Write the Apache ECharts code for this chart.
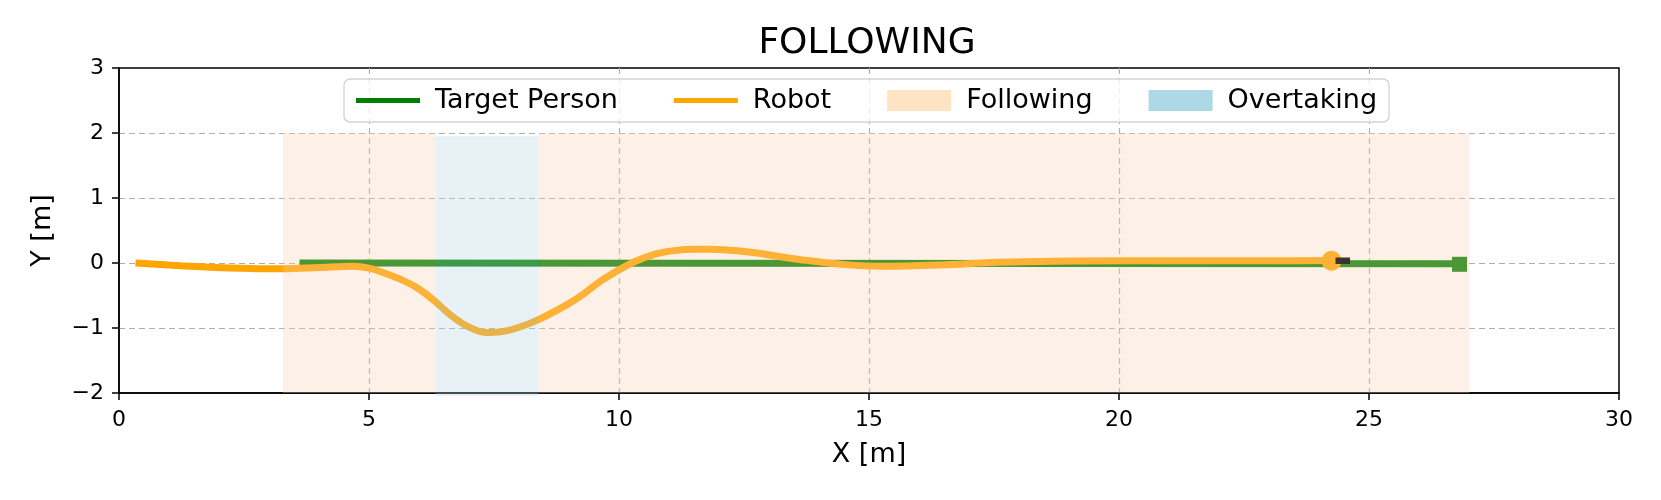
<!DOCTYPE html>
<html>
<head>
<meta charset="utf-8">
<script src="https://cdn.jsdelivr.net/npm/echarts@6/dist/echarts.min.js"></script>
<style>html,body{margin:0;padding:0;background:#fff;}#c{width:1661px;height:500px;}</style>
</head>
<body>
<div id="c"></div>
<script>
// ---- data ----
const robotX = [0.33, 1.0, 1.63, 2.63, 3.28, 4.0, 4.69, 5.0, 5.29, 5.6, 5.96, 6.29, 6.63, 6.96, 7.33, 7.63, 7.96, 8.39, 8.96, 9.3, 9.63, 9.92, 10.31, 10.69, 11.1, 11.5, 11.84, 12.6, 13.2, 13.75, 14.52, 15.28, 16.43, 17.58, 19.11, 21.0, 23.0, 24.25];
const robotY = [0.0, -0.03, -0.056, -0.085, -0.09, -0.07, -0.05, -0.08, -0.15, -0.24, -0.38, -0.57, -0.8, -0.97, -1.07, -1.06, -1.0, -0.87, -0.64, -0.47, -0.28, -0.14, 0.02, 0.13, 0.19, 0.21, 0.21, 0.17, 0.1, 0.04, -0.025, -0.05, -0.03, 0.01, 0.03, 0.035, 0.035, 0.04];
const targetX = [3.61, 26.81];
const targetY = [0.0, -0.01];
const robotEnd = [24.25, 0.035];
const targetEnd = [26.81, -0.02];
const headingX = [24.33, 24.62];
const headingY = [0.035, 0.035];
const followingSpans = [[3.28, 6.33, -2, 2], [8.39, 27.01, -2, 2]];
const overtakingSpans = [[6.33, 8.39, -2.05, 1.95]];
const xRange = [0, 30, 5];
const yRange = [-2, 3, 1];

const FONT = 'DejaVu Sans';
const zip = (a, b) => a.map((v, i) => [v, b[i]]);
const fmt = v => String(v).replace('-', '\u2212');

function spanRender(color) {
  return function (params, api) {
    const p0 = api.coord([api.value(0), api.value(3)]);
    const p1 = api.coord([api.value(1), api.value(2)]);
    return {
      type: 'rect',
      shape: { x: p0[0], y: p0[1], width: p1[0] - p0[0], height: p1[1] - p0[1] },
      style: { fill: color }
    };
  };
}

const chart = echarts.init(document.getElementById('c'));
chart.setOption({
  animation: false,
  backgroundColor: '#fff',
  textStyle: { fontFamily: FONT },
  title: {
    text: 'FOLLOWING', left: 862, textAlign: 'center', top: 21,
    textStyle: { fontFamily: FONT, fontSize: 36, fontWeight: 'normal', color: '#000' }
  },
  legend: {
    left: 344, top: 79,
    padding: [8, 12, 8, 12],
    itemGap: 56,
    itemWidth: 64, itemHeight: 21,
    backgroundColor: 'rgba(255,255,255,0.8)',
    borderColor: '#d3d3d3', borderWidth: 1.3, borderRadius: 6,
    textStyle: { fontFamily: FONT, fontSize: 27, color: '#000', padding: [0, 0, 0, 10] },
    data: [
      { name: 'Target Person', icon: 'path://M0,0h64v5h-64z', itemStyle: { color: '#008000' } },
      { name: 'Robot', icon: 'path://M0,0h64v5h-64z', itemStyle: { color: '#ffa500' } },
      { name: 'Following', icon: 'path://M0,0h64v21h-64z', itemStyle: { color: '#ffe4c4' } },
      { name: 'Overtaking', icon: 'path://M0,0h64v21h-64z', itemStyle: { color: '#add8e6' } }
    ]
  },
  grid: {
    left: 119, right: 42, top: 68, bottom: 107,
    show: true, borderColor: '#000', borderWidth: 1.5, backgroundColor: 'transparent'
  },
  xAxis: {
    type: 'value', min: xRange[0], max: xRange[1], interval: xRange[2],
    name: 'X [m]', nameLocation: 'middle', nameGap: 48,
    nameTextStyle: { fontFamily: FONT, fontSize: 27, color: '#000' },
    axisLine: { show: true, onZero: false, lineStyle: { color: '#000', width: 1.5 } },
    axisTick: { show: true, length: 7, lineStyle: { color: '#000', width: 1.5 } },
    axisLabel: { fontFamily: FONT, fontSize: 22, color: '#000', margin: 16, formatter: fmt },
    splitLine: { show: true, showMinLine: false, showMaxLine: false, lineStyle: { color: '#b0b0b0', type: [6, 4], width: 1.2 } }
  },
  yAxis: {
    type: 'value', min: yRange[0], max: yRange[1], interval: yRange[2],
    name: 'Y [m]', nameLocation: 'middle', nameGap: 63, nameRotate: 90,
    nameTextStyle: { fontFamily: FONT, fontSize: 27, color: '#000' },
    axisLine: { show: true, onZero: false, lineStyle: { color: '#000', width: 1.5 } },
    axisTick: { show: true, length: 7, lineStyle: { color: '#000', width: 1.5 } },
    axisLabel: { fontFamily: FONT, fontSize: 22, color: '#000', margin: 15, formatter: fmt },
    splitLine: { show: true, showMinLine: false, showMaxLine: false, lineStyle: { color: '#b0b0b0', type: [6, 4], width: 1.2 } }
  },
  series: [
    {
      name: 'Target Person', type: 'line', z: 2, data: zip(targetX, targetY),
      showSymbol: false, symbol: 'none',
      lineStyle: { color: '#008000', width: 7, cap: 'butt' }, itemStyle: { color: '#008000' }
    },
    {
      name: 'Robot', type: 'line', z: 3, data: zip(robotX, robotY),
      smooth: 0.35, showSymbol: false, symbol: 'none',
      lineStyle: { color: '#ffa500', width: 7, cap: 'butt' }, itemStyle: { color: '#ffa500' }
    },
    {
      name: 'targetEnd', type: 'scatter', z: 4, data: [targetEnd],
      symbol: 'rect', symbolSize: 15, itemStyle: { color: '#008000', opacity: 1 }
    },
    {
      name: 'robotEnd', type: 'scatter', z: 4, data: [robotEnd],
      symbol: 'circle', symbolSize: 20, itemStyle: { color: '#ffa500', opacity: 1 }
    },
    {
      name: 'Following', type: 'custom', z: 10, data: followingSpans,
      encode: { x: [0, 1], y: [2, 3] }, renderItem: spanRender('rgba(250,205,175,0.3)'),
      itemStyle: { color: '#ffe4c4' }, silent: true
    },
    {
      name: 'Overtaking', type: 'custom', z: 10, data: overtakingSpans,
      encode: { x: [0, 1], y: [2, 3] }, renderItem: spanRender('rgba(182,210,226,0.32)'),
      itemStyle: { color: '#add8e6' }, silent: true, clip: false
    },
    {
      name: 'heading', type: 'line', z: 20, data: zip(headingX, headingY),
      showSymbol: false, symbol: 'none',
      lineStyle: { color: '#3b3330', width: 6.5, cap: 'butt' }
    }
  ]
});
</script>
</body>
</html>
